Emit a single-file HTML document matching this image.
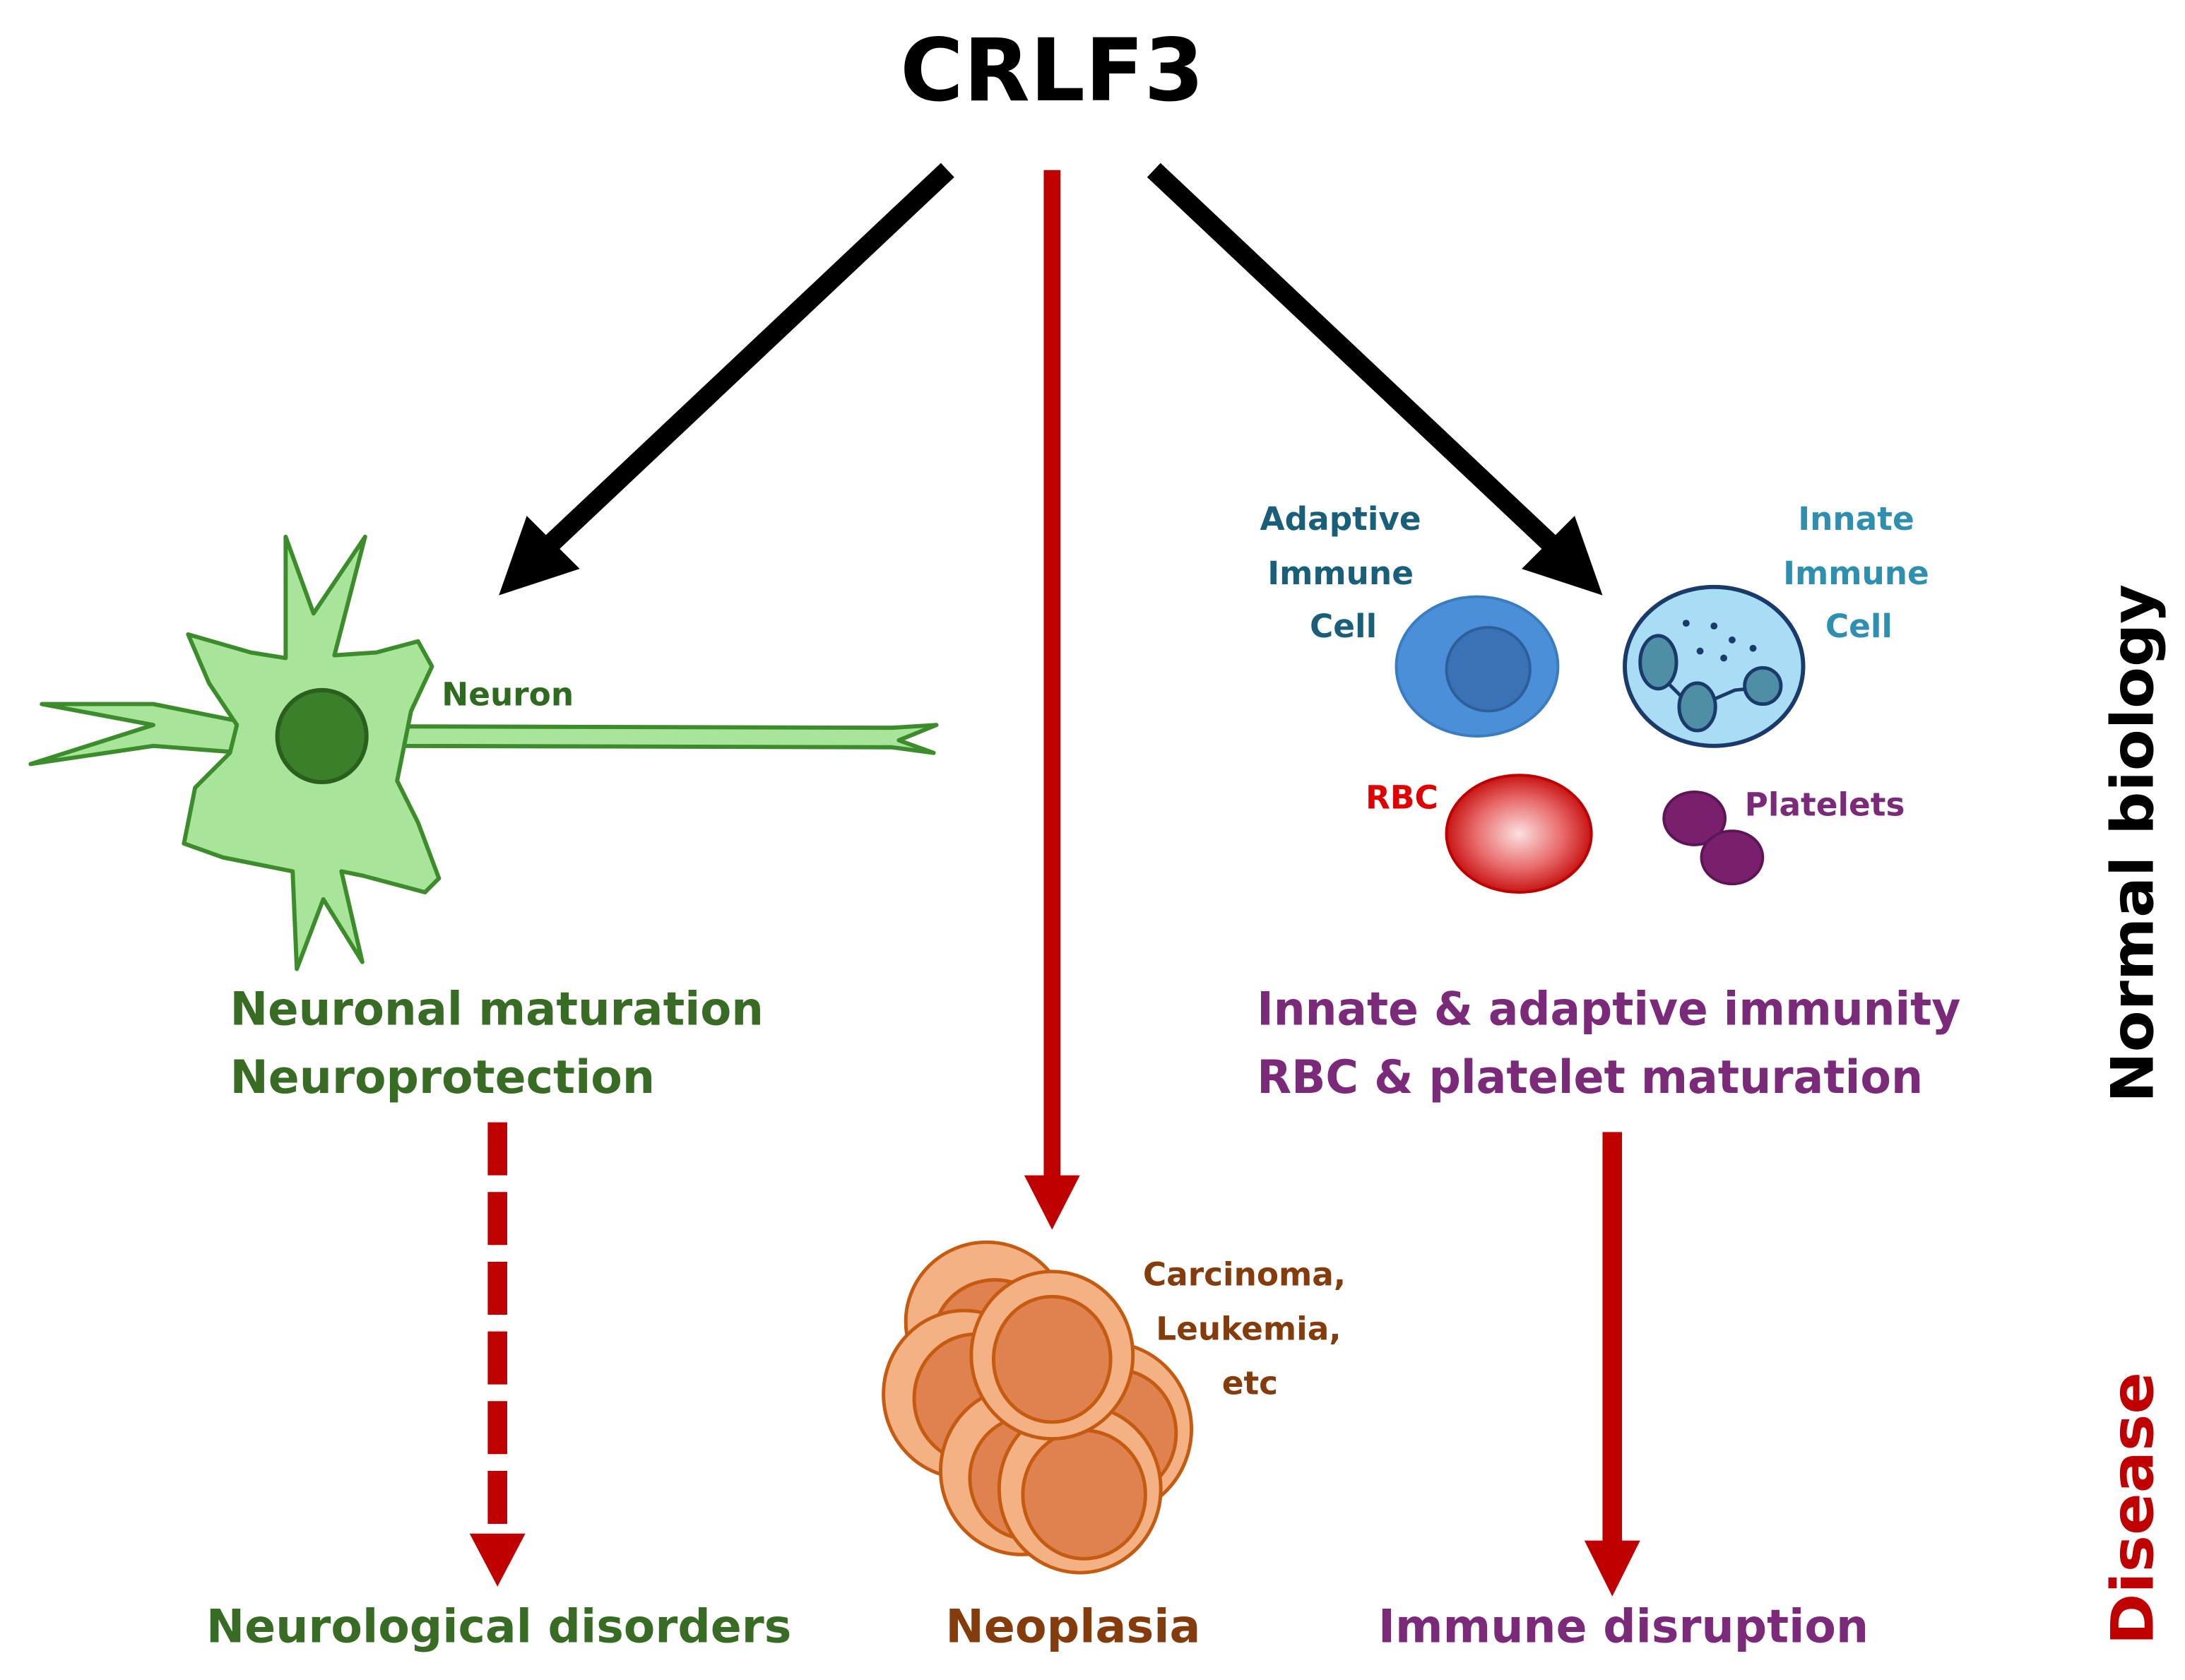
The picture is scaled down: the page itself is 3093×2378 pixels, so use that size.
<!DOCTYPE html>
<html><head><meta charset="utf-8"><style>
html,body{margin:0;padding:0;background:#fff;}
svg{display:block;}
text{font-family:"DejaVu Sans","Liberation Sans",sans-serif;font-weight:bold;}
</style></head><body>
<svg width="3093" height="2378" viewBox="0 0 1568 1205" preserveAspectRatio="none" xmlns="http://www.w3.org/2000/svg">
<defs>
<radialGradient id="rbc" cx="0.5" cy="0.5" r="0.55">
<stop offset="0" stop-color="#fbe0e0"/><stop offset="0.55" stop-color="#e86a6a"/><stop offset="1" stop-color="#c00000"/>
</radialGradient>
</defs>
<rect width="1568" height="1205" fill="#fff"/>
<text x="755" y="72" font-size="62" text-anchor="middle" fill="#000">CRLF3</text>

<!-- black arrows -->
<line x1="680" y1="122" x2="390" y2="395" stroke="#000" stroke-width="14"/>
<polygon points="358,427 378,370 416,408" fill="#000"/>
<line x1="828" y1="122" x2="1118" y2="395" stroke="#000" stroke-width="14"/>
<polygon points="1150,427 1092,408 1130,370" fill="#000"/>

<!-- red center arrow -->
<line x1="755" y1="122" x2="755" y2="845" stroke="#c00000" stroke-width="12"/>
<polygon points="735,843 775,843 755,882" fill="#c00000"/>

<!-- neuron -->
<g stroke="#3c8c2c" stroke-width="3" fill="#a8e49a" stroke-linejoin="round">
<path d="M285,521 L640,522 L672,520 L645,531 L670,540 L640,536 L285,535 Z"/>
<path d="M175,518 L110,505 L30,505 L110,520 L22,548 L110,535 L175,540 Z"/>
<path d="M135,455 L180,468 L205,472 L205,385 L225,440 L262,385 L240,470 L270,468 L300,460 L310,478 L295,510 L285,560 L300,590 L315,630 L305,640 L260,628 L245,625 L260,690 L232,645 L213,695 L210,625 L160,615 L132,605 L140,565 L165,540 L170,520 L150,490 Z"/>
</g>
<ellipse cx="231" cy="528" rx="32" ry="33" fill="#3a7f2a" stroke="#2a5f1e" stroke-width="3"/>
<text x="317" y="506" font-size="23" fill="#2f6b1f">Neuron</text>

<text x="165" y="735" font-size="33" fill="#386b24" textLength="383" lengthAdjust="spacingAndGlyphs">Neuronal maturation</text>
<text x="165" y="784" font-size="33" fill="#386b24" textLength="305" lengthAdjust="spacingAndGlyphs">Neuroprotection</text>

<line x1="357" y1="805" x2="357" y2="1102" stroke="#c00000" stroke-width="14" stroke-dasharray="38,12"/>
<polygon points="337,1100 377,1100 357,1138" fill="#c00000"/>
<text x="358" y="1178" font-size="33" fill="#386b24" text-anchor="middle" textLength="420" lengthAdjust="spacingAndGlyphs">Neurological disorders</text>

<!-- neoplasia -->
<g stroke="#c55a11" stroke-width="2.5">
<g><ellipse cx="708" cy="948" rx="58" ry="57" fill="#f4b183"/><ellipse cx="714" cy="960" rx="44" ry="42" fill="#e0824f"/></g>
<g><ellipse cx="692" cy="1000" rx="58" ry="60" fill="#f4b183"/><ellipse cx="700" cy="1003" rx="44" ry="46" fill="#e0824f"/></g>
<g><ellipse cx="795" cy="1025" rx="60" ry="62" fill="#f4b183"/><ellipse cx="800" cy="1028" rx="44" ry="46" fill="#e0824f"/></g>
<g><ellipse cx="733" cy="1055" rx="58" ry="60" fill="#f4b183"/><ellipse cx="738" cy="1060" rx="42" ry="44" fill="#e0824f"/></g>
<g><ellipse cx="775" cy="1068" rx="58" ry="60" fill="#f4b183"/><ellipse cx="778" cy="1072" rx="44" ry="46" fill="#e0824f"/></g>
<g><ellipse cx="755" cy="972" rx="58" ry="60" fill="#f4b183"/><ellipse cx="755" cy="975" rx="42" ry="45" fill="#e0824f"/></g>
</g>
<text x="893" y="922" font-size="23" fill="#843c0c" text-anchor="middle">Carcinoma,</text>
<text x="896" y="961" font-size="23" fill="#843c0c" text-anchor="middle">Leukemia,</text>
<text x="897" y="1000" font-size="23" fill="#843c0c" text-anchor="middle">etc</text>
<text x="770" y="1178" font-size="33" fill="#843c0c" text-anchor="middle">Neoplasia</text>

<!-- immune -->
<text x="962" y="380" font-size="23" fill="#1a5f7a" text-anchor="middle">Adaptive</text>
<text x="962" y="419" font-size="23" fill="#1a5f7a" text-anchor="middle">Immune</text>
<text x="964" y="457" font-size="23" fill="#1a5f7a" text-anchor="middle">Cell</text>
<ellipse cx="1060" cy="478" rx="58" ry="50" fill="#4a8fd8" stroke="#3a7cc0" stroke-width="2"/>
<ellipse cx="1068" cy="480" rx="30" ry="30" fill="#3a72b5" stroke="#2d5f9a" stroke-width="2"/>

<text x="1332" y="380" font-size="23" fill="#2f8fb0" text-anchor="middle">Innate</text>
<text x="1332" y="419" font-size="23" fill="#2f8fb0" text-anchor="middle">Immune</text>
<text x="1334" y="457" font-size="23" fill="#2f8fb0" text-anchor="middle">Cell</text>
<ellipse cx="1230" cy="478" rx="64" ry="57" fill="#a9dcf5" stroke="#1a3a6a" stroke-width="3"/>
<g fill="#1a3a6a"><circle cx="1210" cy="447" r="2.5"/><circle cx="1230" cy="449" r="2.5"/><circle cx="1243" cy="459" r="2.5"/><circle cx="1258" cy="465" r="2.5"/><circle cx="1220" cy="467" r="2.5"/><circle cx="1237" cy="472" r="2.5"/></g>
<path d="M1190,483 L1215,508 L1245,495 L1265,493" stroke="#1a3a6a" stroke-width="2.5" fill="none"/>
<g fill="#4f8fa6" stroke="#1a3a6a" stroke-width="2.5">
<ellipse cx="1190" cy="475" rx="13" ry="19"/><ellipse cx="1218" cy="507" rx="13" ry="17"/><ellipse cx="1265" cy="492" rx="13" ry="13"/>
</g>

<text x="1006" y="580" font-size="23" fill="#e00000" text-anchor="middle">RBC</text>
<ellipse cx="1090" cy="598" rx="52" ry="42" fill="url(#rbc)" stroke="#c00000" stroke-width="2"/>
<ellipse cx="1216" cy="587" rx="22" ry="19" fill="#7a1f6e" stroke="#5e1555" stroke-width="2"/>
<ellipse cx="1243" cy="615" rx="22" ry="19" fill="#7a1f6e" stroke="#5e1555" stroke-width="2"/>
<text x="1252" y="585" font-size="23" fill="#7a2a78">Platelets</text>

<text x="902" y="735" font-size="33" fill="#7a2a78" textLength="505" lengthAdjust="spacingAndGlyphs">Innate &amp; adaptive immunity</text>
<text x="902" y="784" font-size="33" fill="#7a2a78" textLength="478" lengthAdjust="spacingAndGlyphs">RBC &amp; platelet maturation</text>

<line x1="1157" y1="812" x2="1157" y2="1108" stroke="#c00000" stroke-width="14"/>
<polygon points="1137,1105 1177,1105 1157,1145" fill="#c00000"/>
<text x="1165" y="1178" font-size="33" fill="#7a2a78" text-anchor="middle" textLength="352" lengthAdjust="spacingAndGlyphs">Immune disruption</text>

<text transform="translate(1545,605) rotate(-90)" font-size="42" fill="#000" text-anchor="middle" textLength="372" lengthAdjust="spacingAndGlyphs">Normal biology</text>
<text transform="translate(1545,1082) rotate(-90)" font-size="42" fill="#c00000" text-anchor="middle" textLength="196" lengthAdjust="spacingAndGlyphs">Disease</text>
</svg>
</body></html>
